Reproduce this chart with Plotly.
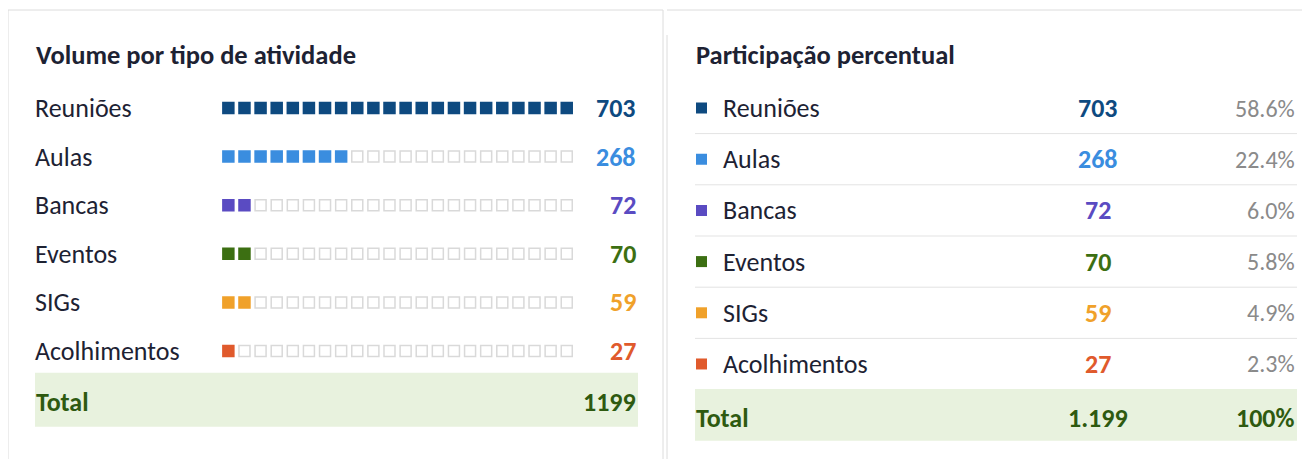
"""Activity volume cards: waffle rows on the left, share table on the right."""

from __future__ import annotations

import plotly.graph_objects as go

# ---- data -----------------------------------------------------------------
CATEGORIES = ["Reuniões", "Aulas", "Bancas", "Eventos", "SIGs", "Acolhimentos"]
COUNTS = [703, 268, 72, 70, 59, 27]
FILLED_CELLS = [22, 8, 2, 2, 2, 1]
N_CELLS = 22
SHARE_LABELS = ["58.6%", "22.4%", "6.0%", "5.8%", "4.9%", "2.3%"]
TOTAL_LEFT = "1199"
TOTAL_RIGHT = "1.199"
TOTAL_SHARE = "100%"
COLORS = ["#0e4a80", "#3a8ddf", "#5a4bc2", "#3c6f12", "#f0a12a", "#e05a2c"]

# ---- style ----------------------------------------------------------------
# the page body has an 8px margin, so the figure is laid out in screen pixels
# and shifted back by that offset
PAGE_W, PAGE_H, OFF = 1310, 459, 8
W, H = PAGE_W - OFF, PAGE_H - OFF
_FONT = "Carlito, Lato, 'Open Sans', sans-serif"
_INK = "#1d2233"
_GREY = "#8a8a8a"
_EMPTY = "#d9d9d9"
_RULE = "#e3e3e3"
_CARD = "#dcdcdc"
_TOTAL_BG = "#e8f2de"
_TOTAL_INK = "#2e5a10"
_BODY = 26
_TITLE = 26.5
_SHARE = 24


def px(x: float) -> float:
    return (x - OFF) / W


def py(y: float) -> float:
    return 1 - (y - OFF) / H


fig = go.Figure()

# left card: waffle rows
for cat, filled, color in zip(CATEGORIES, FILLED_CELLS, COLORS):
    fig.add_trace(go.Scatter(
        x=list(range(filled)), y=[cat] * filled, mode="markers",
        marker={"symbol": "square", "size": 12.5, "color": color, "line": {"width": 0}},
        xaxis="x", yaxis="y", hoverinfo="skip",
    ))
    empty = list(range(filled, N_CELLS))
    if empty:
        fig.add_trace(go.Scatter(
            x=empty, y=[cat] * len(empty), mode="markers",
            marker={"symbol": "square", "size": 11, "color": "white",
                    "line": {"width": 1.5, "color": _EMPTY}},
            xaxis="x", yaxis="y", hoverinfo="skip",
        ))

# right card: colour keys (own axis, nudged down to sit on the text baseline)
fig.add_trace(go.Scatter(
    x=[0] * len(CATEGORIES), y=CATEGORIES, mode="markers",
    marker={"symbol": "square", "size": 11, "color": COLORS, "line": {"width": 0}},
    xaxis="x2", yaxis="y3", hoverinfo="skip",
))

annotations = []
shapes = []

# card outlines
shapes += [
    {"type": "line", "xref": "paper", "yref": "paper", "x0": px(8), "x1": px(663),
     "y0": py(10), "y1": py(10), "line": {"color": _CARD, "width": 1}},
    {"type": "line", "xref": "paper", "yref": "paper", "x0": px(8), "x1": px(8),
     "y0": py(10), "y1": py(PAGE_H), "line": {"color": _CARD, "width": 1}},
    {"type": "line", "xref": "paper", "yref": "paper", "x0": px(663), "x1": px(663),
     "y0": py(10), "y1": py(PAGE_H), "line": {"color": _CARD, "width": 1}},
    {"type": "line", "xref": "paper", "yref": "paper", "x0": px(667), "x1": px(PAGE_W),
     "y0": py(10), "y1": py(10), "line": {"color": _CARD, "width": 1}},
    {"type": "line", "xref": "paper", "yref": "paper", "x0": px(667), "x1": px(667),
     "y0": py(35), "y1": py(PAGE_H), "line": {"color": _CARD, "width": 1}},
]

# titles
for x, text in ((34, "Volume por tipo de atividade"), (694, "Participação percentual")):
    annotations.append({
        "text": f"<b>{text}</b>", "xref": "paper", "yref": "paper",
        "x": px(x), "y": py(55), "xanchor": "left", "yanchor": "middle",
        "showarrow": False, "font": {"size": _TITLE, "color": _INK},
    })

# left rows
for cat, count, color in zip(CATEGORIES, COUNTS, COLORS):
    annotations.append({
        "text": cat, "xref": "paper", "yref": "y", "x": px(33), "y": cat,
        "xanchor": "left", "yanchor": "middle", "showarrow": False,
        "font": {"size": _BODY, "color": _INK},
    })
    annotations.append({
        "text": f"<b>{count}</b>", "xref": "paper", "yref": "y", "x": px(638), "y": cat,
        "xanchor": "right", "yanchor": "middle", "showarrow": False,
        "font": {"size": _BODY, "color": color},
    })

# right rows
for i, (cat, count, share, color) in enumerate(zip(CATEGORIES, COUNTS, SHARE_LABELS, COLORS)):
    annotations.append({
        "text": cat, "xref": "paper", "yref": "y2", "x": px(721), "y": cat,
        "xanchor": "left", "yanchor": "middle", "showarrow": False,
        "font": {"size": _BODY, "color": _INK},
    })
    annotations.append({
        "text": f"<b>{count}</b>", "xref": "paper", "yref": "y2", "x": px(1098), "y": cat,
        "xanchor": "center", "yanchor": "middle", "showarrow": False,
        "font": {"size": _BODY, "color": color},
    })
    annotations.append({
        "text": share, "xref": "paper", "yref": "y2", "x": px(1297), "y": cat,
        "xanchor": "right", "yanchor": "middle", "showarrow": False,
        "font": {"size": _SHARE, "color": _GREY},
    })
    if i < len(CATEGORIES) - 1:
        shapes.append({
            "type": "line", "xref": "paper", "yref": "y2", "x0": px(695), "x1": px(1297),
            "y0": i + 0.5, "y1": i + 0.5, "line": {"color": _RULE, "width": 1},
        })

# total rows
n = len(CATEGORIES)
shapes.append({"type": "rect", "xref": "paper", "yref": "y", "x0": px(35), "x1": px(638),
               "y0": n - 0.55, "y1": n + 0.56, "fillcolor": _TOTAL_BG, "line": {"width": 0},
               "layer": "below"})
shapes.append({"type": "rect", "xref": "paper", "yref": "y2", "x0": px(695), "x1": px(1297),
               "y0": n - 0.51, "y1": n + 0.5, "fillcolor": _TOTAL_BG, "line": {"width": 0},
               "layer": "below"})
for ref, x, text, anchor in (
    ("y", 34, "Total", "left"), ("y", 638, TOTAL_LEFT, "right"),
    ("y2", 694, "Total", "left"), ("y2", 1098, TOTAL_RIGHT, "center"),
    ("y2", 1297, TOTAL_SHARE, "right"),
):
    annotations.append({
        "text": f"<b>{text}</b>", "xref": "paper", "yref": ref, "x": px(x), "y": n + 0.05,
        "xanchor": anchor, "yanchor": "middle", "showarrow": False,
        "font": {"size": _BODY, "color": _TOTAL_INK},
    })

_hidden = {"visible": False, "showgrid": False, "zeroline": False, "fixedrange": True}
_cats = {"type": "category", "categoryorder": "array", "categoryarray": CATEGORIES}
fig.update_layout(
    width=W, height=H,
    margin={"l": 0, "r": 0, "t": 0, "b": 0},
    paper_bgcolor="white", plot_bgcolor="rgba(0,0,0,0)",
    font={"family": _FONT, "color": _INK},
    showlegend=False,
    xaxis={**_hidden, "domain": [px(220.3), px(574.8)], "range": [-0.5, N_CELLS - 0.5]},
    yaxis={**_hidden, **_cats, "domain": [py(443.3), py(83.7)], "range": [6.9, -0.5]},
    xaxis2={**_hidden, "domain": [px(690), px(713)], "range": [-1, 1], "anchor": "y2"},
    yaxis2={**_hidden, **_cats, "domain": [py(445.9), py(82.4)], "range": [6.6, -0.5],
            "anchor": "x2"},
    yaxis3={**_hidden, **_cats, "domain": [py(448.4), py(84.9)], "range": [6.6, -0.5],
            "anchor": "x2", "overlaying": "y2"},
    shapes=shapes,
    annotations=annotations,
)

fig.write_html("out.html")
